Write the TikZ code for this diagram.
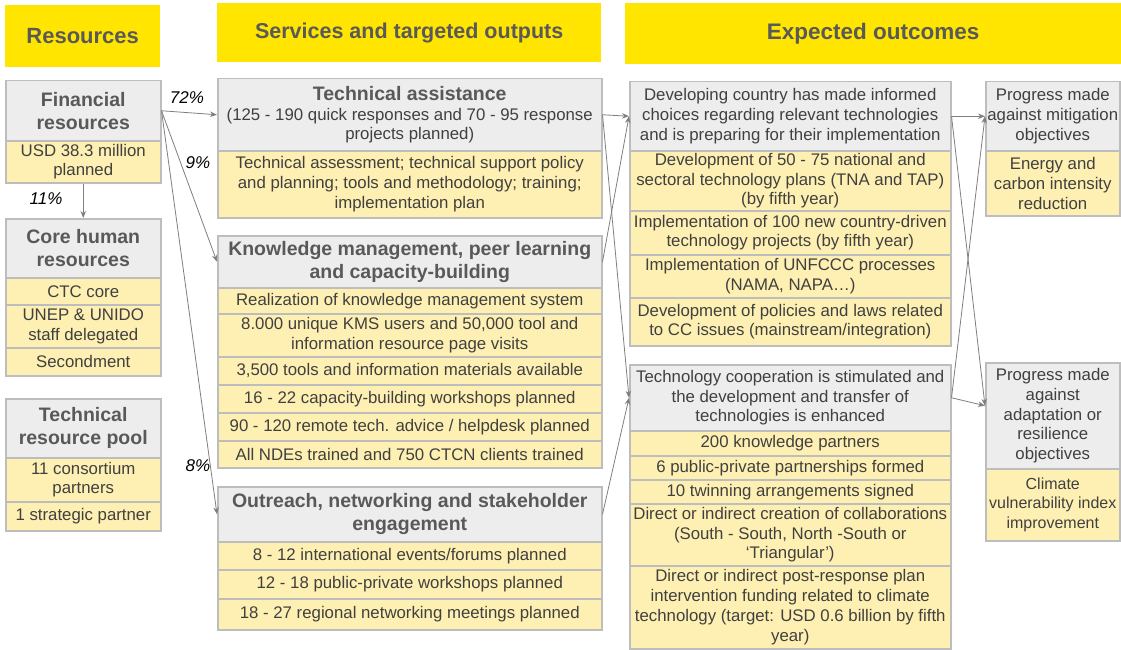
\documentclass[tikz,border=0pt]{standalone}
\usepackage{fontspec}
\setmainfont{Liberation Sans}
\usetikzlibrary{arrows.meta}
\definecolor{hdryellow}{HTML}{FFE500}
\definecolor{lightyellow}{HTML}{FEF0B2}
\definecolor{lightgray}{HTML}{EDEDED}
\definecolor{boxborder}{HTML}{BDBDBD}
\definecolor{hdrtext}{HTML}{595959}
\definecolor{bodytext}{HTML}{404040}
\definecolor{arrowgray}{HTML}{7F7F7F}
\newcommand\bx[7]{\node[#2, anchor=north west, minimum width={(#5-#3)*1pt}, minimum height={(#6-#4)*1pt}] (#1) at (#3,#4) {#7};}
\tikzset{
  basebox/.style={inner sep=0pt, align=center, text=bodytext, draw=boxborder, line width=1.5pt},
  ybar/.style={inner sep=0pt, align=center, fill=hdryellow, text=hdrtext, font=\bfseries\fontsize{22}{26}\selectfont},
  gbox/.style={basebox, fill=lightgray, text=hdrtext, font=\bfseries\fontsize{19.5}{23}\selectfont},
  gboxn/.style={basebox, fill=lightgray, font=\fontsize{16.8}{19.8}\selectfont},
  ybox/.style={basebox, fill=lightyellow, font=\fontsize{16.8}{19.8}\selectfont},
  arr/.style={draw=arrowgray, line width=0.8pt, -{Stealth[length=7pt,width=5.5pt]}},
  pct/.style={font=\itshape\fontsize{17}{20}\selectfont, text=black, inner sep=0pt}
}
\begin{document}
\begin{tikzpicture}[x=1pt,y=-1pt]
\useasboundingbox (0,0) rectangle (1121,650);
\fill[white] (0,0) rectangle (1121,650);
% column headers
\bx{hres}{ybar}{5}{5}{160}{67}{Resources}
\bx{hsvc}{ybar,font=\bfseries\fontsize{21.5}{25}\selectfont}{217}{3}{601}{62}{Services and targeted outputs}
\bx{hout}{ybar,font=\bfseries\fontsize{22.5}{26}\selectfont}{625}{3}{1121}{64}{Expected outcomes}
% resources
\bx{fin}{gbox}{5}{80}{160}{140}{Financial\\resources}
\bx{finA}{ybox}{5}{140}{160}{182}{USD 38.3 million\\planned}
\bx{core}{gbox}{5}{218}{160}{277}{Core human\\resources}
\bx{coreA}{ybox}{5}{277}{160}{304}{CTC core}
\bx{coreB}{ybox}{5}{304}{160}{347}{UNEP \& UNIDO\\staff delegated}
\bx{coreC}{ybox}{5}{347}{160}{375}{Secondment}
\bx{trp}{gbox}{5}{398}{160}{457}{Technical\\resource pool}
\bx{trpA}{ybox}{5}{457}{160}{501}{11 consortium\\partners}
\bx{trpB}{ybox}{5}{501}{160}{530}{1 strategic partner}
% services
\bx{ta}{gboxn}{217}{78}{601}{150}{{\bfseries\color{hdrtext}\fontsize{19.5}{20}\selectfont Technical assistance}\\(125 - 190 quick responses and 70 - 95 response\\projects planned)}
\bx{taA}{ybox}{217}{150}{601}{217}{Technical assessment; technical support policy\\and planning; tools and methodology; training;\\implementation plan}
\bx{km}{gbox}{217}{235}{601}{287}{Knowledge management, peer learning\\and capacity-building}
\bx{kmA}{ybox}{217}{287}{601}{313}{Realization of knowledge management system}
\bx{kmB}{ybox}{217}{313}{601}{356}{8.000 unique KMS users and 50,000 tool and\\information resource page visits}
\bx{kmC}{ybox}{217}{356}{601}{384}{3,500 tools and information materials available}
\bx{kmD}{ybox}{217}{384}{601}{412}{16 - 22 capacity-building workshops planned}
\bx{kmE}{ybox}{217}{412}{601}{440}{90 - 120 remote tech. advice / helpdesk planned}
\bx{kmF}{ybox}{217}{440}{601}{467}{All NDEs trained and 750 CTCN clients trained}
\bx{or}{gbox}{217}{486}{601}{541}{Outreach, networking and stakeholder\\engagement}
\bx{orA}{ybox}{217}{541}{601}{569}{8 - 12 international events/forums planned}
\bx{orB}{ybox}{217}{569}{601}{598}{12 - 18 public-private workshops planned}
\bx{orC}{ybox}{217}{598}{601}{629}{18 - 27 regional networking meetings planned}
% outcomes
\bx{dev}{gboxn}{629}{81}{950}{150}{Developing country has made informed\\choices regarding relevant technologies\\and is preparing for their implementation}
\bx{devA}{ybox}{629}{150}{950}{210}{Development of 50 - 75 national and\\sectoral technology plans (TNA and TAP)\\(by fifth year)}
\bx{devB}{ybox}{629}{210}{950}{254}{Implementation of 100 new country-driven\\technology projects (by fifth year)}
\bx{devC}{ybox}{629}{254}{950}{297}{Implementation of UNFCCC processes\\(NAMA, NAPA…)}
\bx{devD}{ybox}{629}{297}{950}{345}{Development of policies and laws related\\to CC issues (mainstream/integration)}
\bx{tc}{gboxn}{629}{364}{950}{430}{Technology cooperation is stimulated and\\the development and transfer of\\technologies is enhanced}
\bx{tcA}{ybox}{629}{430}{950}{455}{200 knowledge partners}
\bx{tcB}{ybox}{629}{455}{950}{479}{6 public-private partnerships formed}
\bx{tcC}{ybox}{629}{479}{950}{503}{10 twinning arrangements signed}
\bx{tcD}{ybox}{629}{503}{950}{565}{Direct or indirect creation of collaborations\\(South - South, North -South or\\‘Triangular’)}
\bx{tcE}{ybox}{629}{565}{950}{648}{Direct or indirect post-response plan\\intervention funding related to climate\\technology (target: USD 0.6 billion by fifth\\year)}
\bx{mit}{gboxn}{985}{81}{1119}{150}{Progress made\\against mitigation\\objectives}
\bx{mitA}{ybox}{985}{150}{1119}{215}{Energy and\\carbon intensity\\reduction}
\bx{ada}{gboxn}{985}{362}{1119}{468}{Progress made\\against\\adaptation or\\resilience\\objectives}
\bx{adaA}{ybox,font=\fontsize{16}{19.8}\selectfont}{985}{468}{1119}{540}{Climate\\vulnerability index\\improvement}
% percentages
\node[pct] (p72) at (187,98) {72\%};
\node[pct] (p9) at (198,163) {9\%};
\node[pct] (p11) at (46,199) {11\%};
\node[pct] (p8) at (198,466) {8\%};
% connectors
\draw[arr] (fin.east) -- (ta.west);
\draw[arr] (fin.east) -- (km.west);
\draw[arr] (fin.east) -- (or.west);
\draw[arr] (finA.south) -- (core.north);
\draw[arr] (ta.east) -- (dev.west);
\draw[arr] (ta.east) -- (tc.west);
\draw[arr] (km.east) -- (dev.west);
\draw[arr] (or.east) -- (tc.west);
\draw[arr] (dev.east) -- (mit.west);
\draw[arr] (dev.east) -- ([yshift=10pt]ada.west);
\draw[arr] (tc.east) -- (mit.west);
\draw[arr] (tc.east) -- ([yshift=10pt]ada.west);
\end{tikzpicture}
\end{document}
